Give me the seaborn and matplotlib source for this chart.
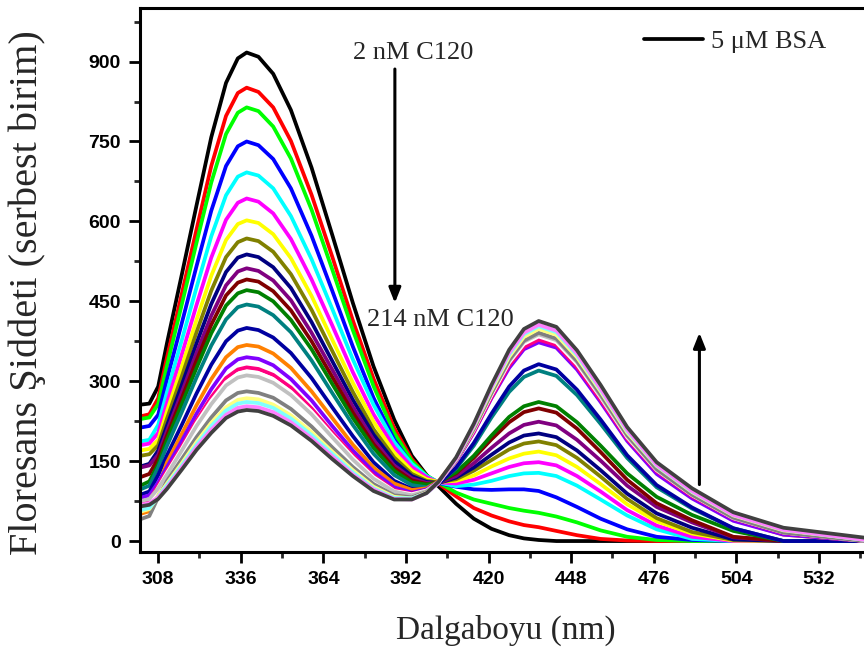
import matplotlib
matplotlib.use("Agg")
import matplotlib.pyplot as plt
import numpy as np
import pandas as pd
import seaborn as sns
from matplotlib.ticker import FixedLocator, MultipleLocator

# ---------------- data ----------------
wavelength = [302, 305, 308, 311, 316, 321, 326, 331, 335, 338, 342, 347, 353, 360,
              367, 374, 381, 388, 394, 399, 403, 409, 415, 421, 427, 432, 437, 443,
              450, 458, 467, 477, 489, 503, 520, 548]

s_black = [256, 258, 290, 372, 500, 630, 758, 860, 906, 917, 909, 877, 809, 701, 575, 447, 328, 228, 160, 124, 103, 70, 42, 23, 11, 5, 2, 0, 0, 0, 0, 0, 0, 0, 0, 0]
s_red = [234, 238, 268, 345, 464, 585, 704, 798, 841, 851, 843, 814, 751, 650, 534, 414, 305, 212, 154, 122, 108, 84, 62, 48, 37, 30, 26, 19, 11, 4, 1, 0, 0, 0, 0, 0]
s_green = [229, 232, 257, 330, 444, 560, 673, 764, 804, 814, 807, 778, 718, 622, 510, 396, 291, 203, 150, 123, 110, 91, 78, 70, 62, 57, 53, 46, 35, 20, 8, 2, 0, 0, 0, 0]
s_blue = [213, 216, 237, 304, 409, 516, 620, 704, 741, 750, 743, 717, 662, 573, 470, 365, 269, 191, 143, 119, 109, 102, 97, 96, 97, 97, 94, 82, 64, 42, 22, 8, 2, 0, 0, 0]
s_cyan = [187, 190, 218, 280, 377, 476, 572, 649, 684, 692, 686, 662, 610, 529, 436, 341, 256, 186, 145, 122, 110, 103, 106, 113, 122, 127, 128, 122, 104, 78, 48, 22, 4, 0, 0, 0]
s_magenta = [180, 183, 203, 260, 350, 443, 532, 603, 635, 643, 637, 615, 567, 491, 405, 317, 238, 176, 139, 120, 110, 108, 115, 127, 139, 146, 148, 142, 122, 93, 58, 29, 8, 0, 0, 0]
s_yellow = [170, 173, 190, 244, 327, 415, 498, 565, 595, 602, 597, 576, 531, 460, 378, 297, 224, 166, 132, 116, 111, 113, 123, 140, 155, 164, 168, 161, 139, 107, 69, 37, 14, 1, 0, 0]
s_olive = [160, 163, 180, 230, 309, 392, 470, 533, 561, 568, 563, 543, 501, 434, 357, 280, 210, 157, 126, 113, 110, 116, 132, 152, 172, 183, 187, 180, 156, 121, 79, 43, 17, 2, 0, 0]
s_navy = [140, 145, 170, 217, 293, 371, 445, 505, 532, 538, 533, 514, 475, 411, 338, 265, 200, 150, 122, 111, 109, 119, 138, 162, 185, 198, 202, 195, 170, 133, 89, 52, 25, 3, 0, 0]
s_purple = [138, 142, 162, 207, 279, 353, 423, 480, 506, 512, 507, 489, 452, 391, 322, 252, 190, 142, 118, 109, 109, 122, 146, 175, 202, 218, 224, 217, 190, 151, 104, 64, 35, 7, 0, 0]
s_wine = [120, 126, 155, 198, 268, 339, 406, 461, 485, 491, 487, 469, 433, 375, 308, 241, 182, 137, 114, 107, 110, 127, 156, 191, 223, 242, 249, 241, 211, 167, 115, 71, 39, 8, 0, 0]
s_dkgreen = [104, 112, 144, 190, 257, 325, 390, 442, 465, 471, 467, 450, 415, 360, 295, 231, 175, 132, 110, 106, 110, 129, 160, 198, 233, 253, 261, 253, 223, 179, 127, 83, 49, 19, 0, 0]
s_teal = [97, 104, 138, 179, 242, 307, 367, 416, 439, 444, 440, 424, 392, 339, 278, 218, 164, 124, 105, 101, 109, 136, 179, 232, 280, 308, 320, 310, 274, 220, 156, 101, 61, 24, 0, 0]
s_royal = [87, 93, 124, 161, 218, 277, 331, 375, 395, 400, 396, 382, 353, 306, 251, 197, 148, 113, 98, 98, 107, 138, 184, 239, 290, 320, 332, 322, 284, 228, 161, 105, 63, 24, 0, 0]
s_orange = [51, 56, 102, 148, 201, 255, 304, 345, 364, 368, 365, 352, 325, 281, 231, 181, 138, 108, 96, 99, 112, 154, 212, 277, 338, 373, 387, 376, 333, 270, 194, 131, 83, 40, 12, 0]
s_violet = [81, 86, 110, 139, 188, 239, 285, 324, 341, 345, 342, 330, 304, 264, 216, 170, 130, 101, 91, 97, 111, 149, 204, 268, 325, 360, 373, 363, 322, 261, 188, 126, 80, 38, 12, 0]
s_pink = [72, 77, 104, 132, 177, 226, 270, 306, 322, 326, 323, 312, 288, 249, 204, 161, 123, 96, 89, 95, 110, 150, 205, 270, 330, 364, 378, 368, 327, 265, 192, 131, 84, 42, 15, 0]
s_white = [62, 68, 100, 128, 173, 221, 263, 298, 314, 318, 315, 304, 280, 243, 199, 157, 120, 94, 88, 95, 110, 151, 208, 274, 335, 370, 384, 373, 332, 270, 195, 133, 86, 43, 16, 0]
s_ltgray = [75, 79, 99, 125, 170, 216, 257, 292, 307, 311, 308, 297, 274, 238, 195, 153, 117, 93, 86, 94, 111, 152, 211, 277, 338, 374, 388, 377, 336, 272, 197, 134, 87, 43, 16, 0]
s_gray = [41, 47, 82, 113, 154, 195, 232, 264, 278, 281, 278, 269, 248, 215, 176, 139, 107, 86, 82, 92, 109, 151, 210, 278, 340, 376, 391, 380, 338, 275, 199, 135, 87, 44, 16, 0]
s_ltyellow = [55, 60, 85, 108, 146, 186, 222, 251, 265, 268, 266, 256, 236, 205, 168, 133, 102, 83, 80, 91, 109, 153, 214, 283, 346, 383, 398, 387, 345, 281, 204, 141, 92, 48, 20, 2]
s_ltcyan = [58, 62, 83, 105, 142, 181, 216, 245, 258, 261, 259, 250, 230, 199, 164, 129, 99, 81, 80, 90, 109, 154, 216, 287, 350, 388, 403, 392, 349, 284, 207, 142, 93, 49, 21, 2]
s_ltmagenta = [68, 71, 82, 101, 138, 176, 209, 237, 250, 253, 251, 242, 223, 193, 159, 125, 97, 79, 78, 90, 109, 154, 217, 289, 353, 391, 406, 395, 352, 286, 209, 143, 94, 49, 21, 2]
s_dkgray = [65, 68, 79, 98, 134, 171, 203, 231, 243, 246, 244, 235, 217, 188, 154, 122, 94, 78, 78, 90, 111, 157, 220, 293, 359, 398, 413, 402, 358, 293, 214, 148, 99, 54, 25, 6]

curve_names = ["black", "red", "green", "blue", "cyan", "magenta", "yellow", "olive",
               "navy", "purple", "wine", "dkgreen", "teal", "royal", "orange", "violet",
               "pink", "white", "ltgray", "gray", "ltyellow", "ltcyan", "ltmagenta", "dkgray"]
curve_values = [s_black, s_red, s_green, s_blue, s_cyan, s_magenta, s_yellow, s_olive,
                s_navy, s_purple, s_wine, s_dkgreen, s_teal, s_royal, s_orange, s_violet,
                s_pink, s_white, s_ltgray, s_gray, s_ltyellow, s_ltcyan, s_ltmagenta, s_dkgray]
curve_colors = ["#000000", "#FF0000", "#00FF00", "#0000FF", "#00FFFF", "#FF00FF", "#FFFF00",
                "#808000", "#000080", "#800080", "#800000", "#008000", "#008080", "#0000A0",
                "#FF8000", "#8000FF", "#FF0080", "#FFFFFF", "#C0C0C0", "#808080", "#FFFF80",
                "#80FFFF", "#FF80FF", "#404040"]

x_major = [308, 336, 364, 392, 420, 448, 476, 504, 532]
x_minor = [322, 350, 378, 406, 434, 462, 490, 518, 546]

for v in curve_values:
    assert len(v) == len(wavelength)

df = pd.concat([pd.DataFrame({"wl": wavelength, "I": v, "curve": n})
                for n, v in zip(curve_names, curve_values)], ignore_index=True)

# ---------------- figure ----------------
sns.set_style("ticks")
plt.rcParams["font.family"] = ["Liberation Serif", "DejaVu Serif"]

fig = plt.figure(figsize=(8.64, 6.48), dpi=100)
ax = fig.add_axes([0.1626, 0.1486, 0.8466, 0.8386])

sns.lineplot(data=df, x="wl", y="I", hue="curve", hue_order=curve_names,
             palette=curve_colors, linewidth=2.7, legend=False, ax=ax,
             estimator=None, sort=False, solid_joinstyle="round",
             solid_capstyle="round")

ax.set_xlim(302, 550)
ax.set_ylim(-20, 1000)

ax.xaxis.set_major_locator(FixedLocator(x_major))
ax.xaxis.set_minor_locator(FixedLocator(x_minor))
ax.yaxis.set_major_locator(MultipleLocator(150))
ax.yaxis.set_minor_locator(MultipleLocator(75))

ax.tick_params(axis="both", which="major", direction="out", length=8, width=2,
               labelsize=14, pad=6, colors="black")
ax.tick_params(axis="both", which="minor", direction="out", length=4, width=2)
ax.tick_params(top=False, right=False, which="both")

for lbl in ax.get_xticklabels() + ax.get_yticklabels():
    lbl.set_fontfamily(["Liberation Sans", "DejaVu Sans"])
    lbl.set_fontweight("bold")

for sp in ax.spines.values():
    sp.set_linewidth(2.2)
    sp.set_color("black")

ax.set_xlabel("Dalgaboyu (nm)", fontsize=24)
ax.xaxis.set_label_coords(0.5, -0.144)
ax.xaxis.label.set_va("center")
ax.set_ylabel("Floresans Şiddeti (serbest birim)", fontsize=29)
ax.yaxis.set_label_coords(-0.1545, 0.476)
ax.yaxis.label.set_va("center")

# annotations
ax.text(394.6, 917, "2 nM C120", ha="center", va="center", fontsize=19)
ax.text(403.6, 415, "214 nM C120", ha="center", va="center", fontsize=19)
arrow_kw = dict(arrowstyle="-|>,head_length=0.5,head_width=0.2", lw=2.2,
                color="black", mutation_scale=18, shrinkA=0, shrinkB=0)
ax.annotate("", xy=(388.25, 447), xytext=(388.25, 886), arrowprops=arrow_kw)
ax.annotate("", xy=(491.5, 391), xytext=(491.5, 106), arrowprops=arrow_kw)

ax.legend([ax.lines[0]], ["5 μM BSA"], loc="center left",
          bbox_to_anchor=(0.6883, 0.9385), frameon=False, fontsize=19,
          handlelength=2.22, handletextpad=0.31, borderpad=0, borderaxespad=0)

fig.savefig("out.png", dpi=100)
